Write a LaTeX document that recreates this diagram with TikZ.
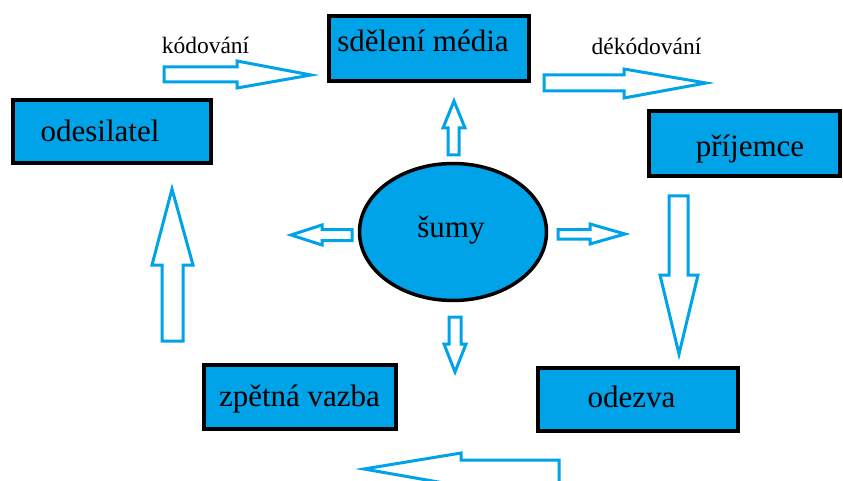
\documentclass[tikz,border=0pt]{standalone}
\usepackage{fontspec}
\setmainfont{Liberation Serif}
\newfontfamily\tnr{Liberation Serif}
\usetikzlibrary{shapes.geometric}
\definecolor{paintblue}{RGB}{0,162,232}
\begin{document}
\begin{tikzpicture}[x=1pt,y=-1pt,
  boxnode/.style={draw=black,line width=4pt,fill=paintblue,rectangle,inner sep=0pt},
  bigtext/.style={font=\tnr\fontsize{31}{35}\selectfont,inner sep=0pt,anchor=base},
  smalltext/.style={font=\tnr\fontsize{23.5}{27}\selectfont,inner sep=0pt,anchor=base},
  barrow/.style={draw=paintblue,line width=3pt,fill=white,line join=miter}]
\useasboundingbox (0,0) rectangle (843,481);
\clip (0,0) rectangle (843,481);
% boxes
\node[boxnode,minimum width=198pt,minimum height=63pt] (odes) at (112,131.5) {};
\node[boxnode,minimum width=200pt,minimum height=65pt] (sdel) at (429,48.5) {};
\node[boxnode,minimum width=191pt,minimum height=65pt] (prij) at (744.5,143.5) {};
\node[boxnode,minimum width=192pt,minimum height=64pt] (zpet) at (300,397) {};
\node[boxnode,minimum width=200pt,minimum height=63pt] (odez) at (638,399.5) {};
\node[draw=black,line width=3.5pt,fill=paintblue,ellipse,minimum width=187pt,minimum height=137pt,inner sep=0pt] (sumy) at (453,232) {};
% texts
\node[bigtext] (t-odes) at (100,141.7) {odesilatel};
\node[bigtext] (t-sdel) at (423,51.7) {sdělení média};
\node[bigtext] (t-prij) at (750,156.7) {příjemce};
\node[bigtext] (t-zpet) at (299.5,406) {zpětná vazba};
\node[bigtext] (t-odez) at (631.5,407.7) {odezva};
\node[bigtext] (t-sumy) at (451,237) {šumy};
\node[smalltext] (t-kod) at (205.5,53.3) {kódování};
\node[smalltext] (t-dekod) at (646.5,55) {dékódování};
% block arrows
\draw[barrow] (164,67) -- (237,67) -- (237,61) -- (311,75) -- (237,88) -- (237,82) -- (164,82) -- cycle;
\draw[barrow] (544,75) -- (624,75) -- (624,69) -- (706,83) -- (624,98) -- (624,91) -- (544,91) -- cycle;
\draw[barrow] (454,101) -- (465,128) -- (459,128) -- (459,155) -- (448,155) -- (448,128) -- (443,128) -- cycle;
\draw[barrow] (291,235) -- (322,225) -- (322,229.5) -- (352,229.5) -- (352,240.5) -- (322,240.5) -- (322,245) -- cycle;
\draw[barrow] (625,234) -- (590,224) -- (590,229.5) -- (558,229.5) -- (558,239) -- (590,239) -- (590,244) -- cycle;
\draw[barrow] (455,372) -- (466,344) -- (461,344) -- (461,317) -- (449,317) -- (449,344) -- (444,344) -- cycle;
\draw[barrow] (679,354) -- (698,275) -- (688,275) -- (688,196) -- (669,196) -- (669,275) -- (660,275) -- cycle;
\draw[barrow] (172,189) -- (193,265) -- (183,265) -- (183,341) -- (162,341) -- (162,265) -- (152,265) -- cycle;
\draw[barrow] (364,469) -- (461,453) -- (461,460) -- (559,460) -- (559,486) -- (461,486) -- (461,486) -- cycle;
\end{tikzpicture}
\end{document}
